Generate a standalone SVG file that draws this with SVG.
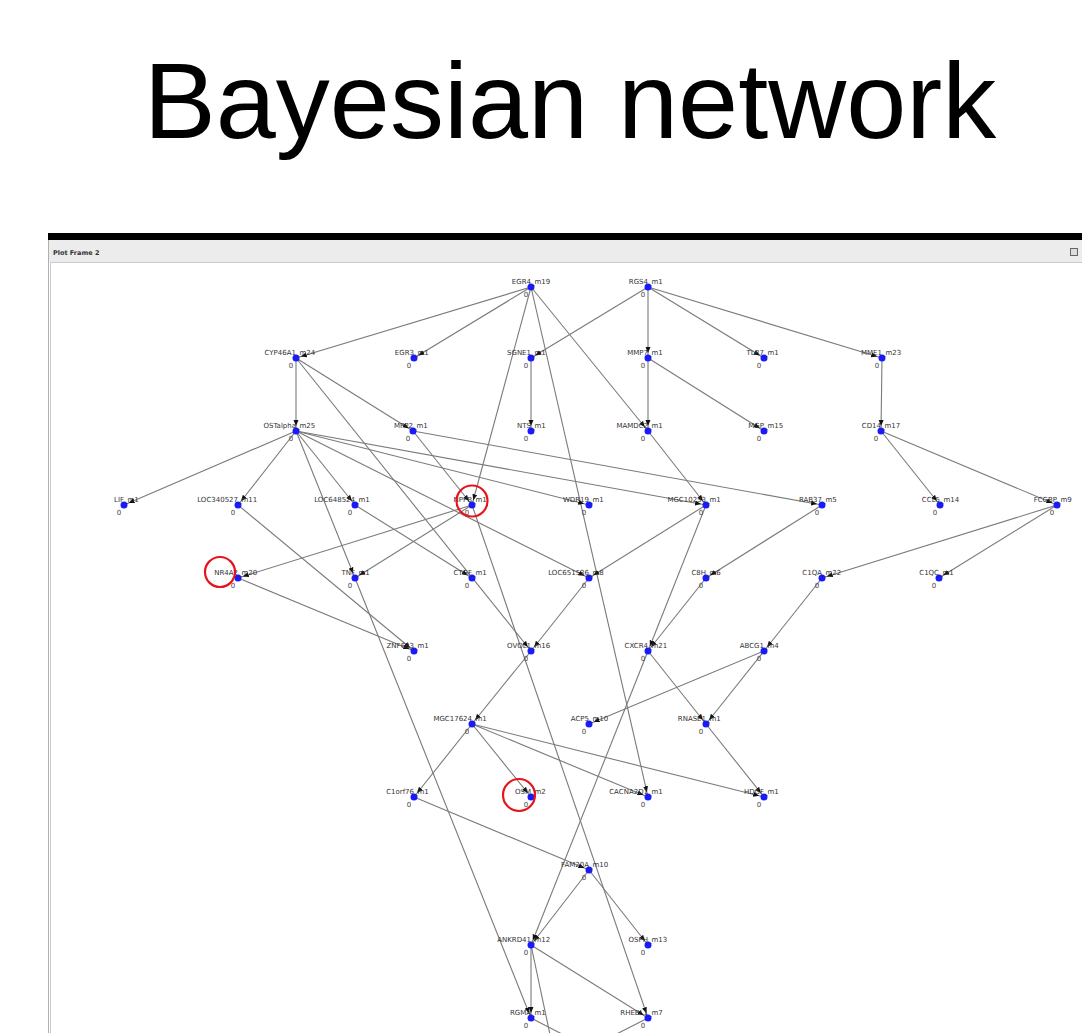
<svg xmlns="http://www.w3.org/2000/svg" width="1082" height="1033" viewBox="0 0 1082 1033">
<style>
.title{font-family:"Liberation Sans",Arial,sans-serif;font-size:108px;fill:#000}
.lb{font-family:"DejaVu Sans",sans-serif;font-size:7px;fill:#333}
.z{font-family:"DejaVu Sans",sans-serif;font-size:7px;fill:#444;text-anchor:middle}
.dot{fill:#1a1aff}
#edges line{stroke:#7a7a7a;stroke-width:1.1;marker-end:url(#ah)}
.hl{fill:none;stroke:#e8141b;stroke-width:2.2}
</style>
<defs>
<marker id="ah" markerUnits="userSpaceOnUse" markerWidth="12" markerHeight="6" refX="11" refY="3" orient="auto">
<path d="M0,0.5 L6,3 L0,5.5 z" fill="#111"/>
</marker>
</defs>
<rect width="1082" height="1033" fill="#fff"/>
<text class="title" x="570" y="138" text-anchor="middle">Bayesian network</text>
<g id="frame">
<rect x="48" y="233" width="1034" height="7" fill="#000"/>
<rect x="48" y="240" width="1034" height="22" fill="#ececec"/>
<rect x="50.5" y="262.5" width="1040" height="790" fill="#fff" stroke="#c5ccd6"/>
<line x1="48.5" y1="240" x2="48.5" y2="1033" stroke="#b0b0b0"/>
<text x="53" y="255" style="font-family:'DejaVu Sans',sans-serif;font-size:6.5px;font-weight:bold;fill:#333">Plot Frame 2</text>
<rect x="1070.5" y="248.5" width="7" height="7" fill="#ddd" stroke="#666"/>
</g>
<g id="edges">
<line x1="531" y1="287" x2="296" y2="358"/>
<line x1="531" y1="287" x2="414" y2="358"/>
<line x1="531" y1="287" x2="472" y2="505"/>
<line x1="531" y1="287" x2="648" y2="797"/>
<line x1="531" y1="287" x2="648" y2="431"/>
<line x1="648" y1="287" x2="531" y2="358"/>
<line x1="648" y1="287" x2="648" y2="358"/>
<line x1="648" y1="287" x2="764" y2="358"/>
<line x1="648" y1="287" x2="882" y2="358"/>
<line x1="296" y1="358" x2="296" y2="431"/>
<line x1="296" y1="358" x2="413" y2="431"/>
<line x1="296" y1="358" x2="531" y2="651"/>
<line x1="531" y1="358" x2="531" y2="431"/>
<line x1="648" y1="358" x2="648" y2="431"/>
<line x1="648" y1="358" x2="764" y2="431"/>
<line x1="882" y1="358" x2="881" y2="431"/>
<line x1="296" y1="431" x2="124" y2="505"/>
<line x1="296" y1="431" x2="238" y2="505"/>
<line x1="296" y1="431" x2="355" y2="505"/>
<line x1="296" y1="431" x2="355" y2="578"/>
<line x1="296" y1="431" x2="589" y2="505"/>
<line x1="296" y1="431" x2="706" y2="505"/>
<line x1="296" y1="431" x2="589" y2="578"/>
<line x1="413" y1="431" x2="472" y2="505"/>
<line x1="413" y1="431" x2="822" y2="505"/>
<line x1="648" y1="431" x2="706" y2="505"/>
<line x1="881" y1="431" x2="940" y2="505"/>
<line x1="881" y1="431" x2="1057" y2="505"/>
<line x1="472" y1="505" x2="238" y2="578"/>
<line x1="472" y1="505" x2="355" y2="578"/>
<line x1="472" y1="505" x2="648" y2="1018"/>
<line x1="238" y1="505" x2="414" y2="651"/>
<line x1="355" y1="505" x2="472" y2="578"/>
<line x1="706" y1="505" x2="589" y2="578"/>
<line x1="706" y1="505" x2="648" y2="651"/>
<line x1="822" y1="505" x2="706" y2="578"/>
<line x1="1057" y1="505" x2="822" y2="578"/>
<line x1="1057" y1="505" x2="939" y2="578"/>
<line x1="238" y1="578" x2="414" y2="651"/>
<line x1="355" y1="578" x2="531" y2="1018"/>
<line x1="589" y1="578" x2="531" y2="651"/>
<line x1="706" y1="578" x2="648" y2="651"/>
<line x1="822" y1="578" x2="764" y2="651"/>
<line x1="531" y1="651" x2="472" y2="724"/>
<line x1="648" y1="651" x2="706" y2="724"/>
<line x1="648" y1="651" x2="531" y2="945"/>
<line x1="764" y1="651" x2="589" y2="724"/>
<line x1="764" y1="651" x2="706" y2="724"/>
<line x1="472" y1="724" x2="414" y2="797"/>
<line x1="472" y1="724" x2="531" y2="797"/>
<line x1="472" y1="724" x2="648" y2="797"/>
<line x1="472" y1="724" x2="764" y2="797"/>
<line x1="706" y1="724" x2="764" y2="797"/>
<line x1="414" y1="797" x2="589" y2="870"/>
<line x1="589" y1="870" x2="531" y2="945"/>
<line x1="589" y1="870" x2="648" y2="945"/>
<line x1="531" y1="945" x2="531" y2="1018"/>
<line x1="531" y1="945" x2="648" y2="1018"/>
<line x1="531" y1="945" x2="566" y2="1110"/>
<line x1="531" y1="1018" x2="589" y2="1048"/>
<line x1="648" y1="1018" x2="589" y2="1048"/>
</g>
<g id="nodes">
<g id="n-EGR4"><circle class="dot" cx="531" cy="287" r="3.5"/><text class="lb" y="283.5"><tspan x="531" text-anchor="end">EGR4</tspan><tspan x="531">_m19</tspan></text><text class="z" x="526" y="296.5">0</text></g>
<g id="n-RGS4"><circle class="dot" cx="648" cy="287" r="3.5"/><text class="lb" y="283.5"><tspan x="648" text-anchor="end">RGS4</tspan><tspan x="648">_m1</tspan></text><text class="z" x="643" y="296.5">0</text></g>
<g id="n-CYP46A1"><circle class="dot" cx="296" cy="358" r="3.5"/><text class="lb" y="354.5"><tspan x="296" text-anchor="end">CYP46A1</tspan><tspan x="296">_m24</tspan></text><text class="z" x="291" y="367.5">0</text></g>
<g id="n-EGR3"><circle class="dot" cx="414" cy="358" r="3.5"/><text class="lb" y="354.5"><tspan x="414" text-anchor="end">EGR3</tspan><tspan x="414">_m1</tspan></text><text class="z" x="409" y="367.5">0</text></g>
<g id="n-SGNE1"><circle class="dot" cx="531" cy="358" r="3.5"/><text class="lb" y="354.5"><tspan x="531" text-anchor="end">SGNE1</tspan><tspan x="531">_m1</tspan></text><text class="z" x="526" y="367.5">0</text></g>
<g id="n-MMP7"><circle class="dot" cx="648" cy="358" r="3.5"/><text class="lb" y="354.5"><tspan x="648" text-anchor="end">MMP7</tspan><tspan x="648">_m1</tspan></text><text class="z" x="643" y="367.5">0</text></g>
<g id="n-TLR7"><circle class="dot" cx="764" cy="358" r="3.5"/><text class="lb" y="354.5"><tspan x="764" text-anchor="end">TLR7</tspan><tspan x="764">_m1</tspan></text><text class="z" x="759" y="367.5">0</text></g>
<g id="n-MME1"><circle class="dot" cx="882" cy="358" r="3.5"/><text class="lb" y="354.5"><tspan x="882" text-anchor="end">MME1</tspan><tspan x="882">_m23</tspan></text><text class="z" x="877" y="367.5">0</text></g>
<g id="n-OSTalpha"><circle class="dot" cx="296" cy="431" r="3.5"/><text class="lb" y="427.5"><tspan x="296" text-anchor="end">OSTalpha</tspan><tspan x="296">_m25</tspan></text><text class="z" x="291" y="440.5">0</text></g>
<g id="n-MPP2"><circle class="dot" cx="413" cy="431" r="3.5"/><text class="lb" y="427.5"><tspan x="413" text-anchor="end">MPP2</tspan><tspan x="413">_m1</tspan></text><text class="z" x="408" y="440.5">0</text></g>
<g id="n-NTS"><circle class="dot" cx="531" cy="431" r="3.5"/><text class="lb" y="427.5"><tspan x="531" text-anchor="end">NTS</tspan><tspan x="531">_m1</tspan></text><text class="z" x="526" y="440.5">0</text></g>
<g id="n-MAMDC2"><circle class="dot" cx="648" cy="431" r="3.5"/><text class="lb" y="427.5"><tspan x="648" text-anchor="end">MAMDC2</tspan><tspan x="648">_m1</tspan></text><text class="z" x="643" y="440.5">0</text></g>
<g id="n-MGP"><circle class="dot" cx="764" cy="431" r="3.5"/><text class="lb" y="427.5"><tspan x="764" text-anchor="end">MGP</tspan><tspan x="764">_m15</tspan></text><text class="z" x="759" y="440.5">0</text></g>
<g id="n-CD14"><circle class="dot" cx="881" cy="431" r="3.5"/><text class="lb" y="427.5"><tspan x="881" text-anchor="end">CD14</tspan><tspan x="881">_m17</tspan></text><text class="z" x="876" y="440.5">0</text></g>
<g id="n-LIF"><circle class="dot" cx="124" cy="505" r="3.5"/><text class="lb" y="501.5"><tspan x="124" text-anchor="end">LIF</tspan><tspan x="124">_m1</tspan></text><text class="z" x="119" y="514.5">0</text></g>
<g id="n-LOC340527"><circle class="dot" cx="238" cy="505" r="3.5"/><text class="lb" y="501.5"><tspan x="238" text-anchor="end">LOC340527</tspan><tspan x="238">_m11</tspan></text><text class="z" x="233" y="514.5">0</text></g>
<g id="n-LOC648524"><circle class="dot" cx="355" cy="505" r="3.5"/><text class="lb" y="501.5"><tspan x="355" text-anchor="end">LOC648524</tspan><tspan x="355">_m1</tspan></text><text class="z" x="350" y="514.5">0</text></g>
<g id="n-NPPB"><circle class="dot" cx="472" cy="505" r="3.5"/><text class="lb" y="501.5"><tspan x="472" text-anchor="end">NPPB</tspan><tspan x="472">_m1</tspan></text><text class="z" x="467" y="514.5">0</text></g>
<g id="n-WDR19"><circle class="dot" cx="589" cy="505" r="3.5"/><text class="lb" y="501.5"><tspan x="589" text-anchor="end">WDR19</tspan><tspan x="589">_m1</tspan></text><text class="z" x="584" y="514.5">0</text></g>
<g id="n-MGC10233"><circle class="dot" cx="706" cy="505" r="3.5"/><text class="lb" y="501.5"><tspan x="706" text-anchor="end">MGC10233</tspan><tspan x="706">_m1</tspan></text><text class="z" x="701" y="514.5">0</text></g>
<g id="n-RAB37"><circle class="dot" cx="822" cy="505" r="3.5"/><text class="lb" y="501.5"><tspan x="822" text-anchor="end">RAB37</tspan><tspan x="822">_m5</tspan></text><text class="z" x="817" y="514.5">0</text></g>
<g id="n-CCL5"><circle class="dot" cx="940" cy="505" r="3.5"/><text class="lb" y="501.5"><tspan x="940" text-anchor="end">CCL5</tspan><tspan x="940">_m14</tspan></text><text class="z" x="935" y="514.5">0</text></g>
<g id="n-FCGBP"><circle class="dot" cx="1057" cy="505" r="3.5"/><text class="lb" y="501.5"><tspan x="1057" text-anchor="end">FCGBP</tspan><tspan x="1057">_m9</tspan></text><text class="z" x="1052" y="514.5">0</text></g>
<g id="n-NR4A2"><circle class="dot" cx="238" cy="578" r="3.5"/><text class="lb" y="574.5"><tspan x="238" text-anchor="end">NR4A2</tspan><tspan x="238">_m20</tspan></text><text class="z" x="233" y="587.5">0</text></g>
<g id="n-TNF"><circle class="dot" cx="355" cy="578" r="3.5"/><text class="lb" y="574.5"><tspan x="355" text-anchor="end">TNF</tspan><tspan x="355">_m1</tspan></text><text class="z" x="350" y="587.5">0</text></g>
<g id="n-CTGF"><circle class="dot" cx="472" cy="578" r="3.5"/><text class="lb" y="574.5"><tspan x="472" text-anchor="end">CTGF</tspan><tspan x="472">_m1</tspan></text><text class="z" x="467" y="587.5">0</text></g>
<g id="n-LOC651536"><circle class="dot" cx="589" cy="578" r="3.5"/><text class="lb" y="574.5"><tspan x="589" text-anchor="end">LOC651536</tspan><tspan x="589">_m8</tspan></text><text class="z" x="584" y="587.5">0</text></g>
<g id="n-C8H"><circle class="dot" cx="706" cy="578" r="3.5"/><text class="lb" y="574.5"><tspan x="706" text-anchor="end">C8H</tspan><tspan x="706">_m6</tspan></text><text class="z" x="701" y="587.5">0</text></g>
<g id="n-C1QA"><circle class="dot" cx="822" cy="578" r="3.5"/><text class="lb" y="574.5"><tspan x="822" text-anchor="end">C1QA</tspan><tspan x="822">_m22</tspan></text><text class="z" x="817" y="587.5">0</text></g>
<g id="n-C1QC"><circle class="dot" cx="939" cy="578" r="3.5"/><text class="lb" y="574.5"><tspan x="939" text-anchor="end">C1QC</tspan><tspan x="939">_m1</tspan></text><text class="z" x="934" y="587.5">0</text></g>
<g id="n-ZNF683"><circle class="dot" cx="414" cy="651" r="3.5"/><text class="lb" y="647.5"><tspan x="414" text-anchor="end">ZNF683</tspan><tspan x="414">_m1</tspan></text><text class="z" x="409" y="660.5">0</text></g>
<g id="n-OVOL1"><circle class="dot" cx="531" cy="651" r="3.5"/><text class="lb" y="647.5"><tspan x="531" text-anchor="end">OVOL1</tspan><tspan x="531">_m16</tspan></text><text class="z" x="526" y="660.5">0</text></g>
<g id="n-CXCR4"><circle class="dot" cx="648" cy="651" r="3.5"/><text class="lb" y="647.5"><tspan x="648" text-anchor="end">CXCR4</tspan><tspan x="648">_m21</tspan></text><text class="z" x="643" y="660.5">0</text></g>
<g id="n-ABCG1"><circle class="dot" cx="764" cy="651" r="3.5"/><text class="lb" y="647.5"><tspan x="764" text-anchor="end">ABCG1</tspan><tspan x="764">_m4</tspan></text><text class="z" x="759" y="660.5">0</text></g>
<g id="n-MGC17624"><circle class="dot" cx="472" cy="724" r="3.5"/><text class="lb" y="720.5"><tspan x="472" text-anchor="end">MGC17624</tspan><tspan x="472">_m1</tspan></text><text class="z" x="467" y="733.5">0</text></g>
<g id="n-ACP5"><circle class="dot" cx="589" cy="724" r="3.5"/><text class="lb" y="720.5"><tspan x="589" text-anchor="end">ACP5</tspan><tspan x="589">_m10</tspan></text><text class="z" x="584" y="733.5">0</text></g>
<g id="n-RNASE1"><circle class="dot" cx="706" cy="724" r="3.5"/><text class="lb" y="720.5"><tspan x="706" text-anchor="end">RNASE1</tspan><tspan x="706">_m1</tspan></text><text class="z" x="701" y="733.5">0</text></g>
<g id="n-C1orf76"><circle class="dot" cx="414" cy="797" r="3.5"/><text class="lb" y="793.5"><tspan x="414" text-anchor="end">C1orf76</tspan><tspan x="414">_m1</tspan></text><text class="z" x="409" y="806.5">0</text></g>
<g id="n-OSM"><circle class="dot" cx="531" cy="797" r="3.5"/><text class="lb" y="793.5"><tspan x="531" text-anchor="end">OSM</tspan><tspan x="531">_m2</tspan></text><text class="z" x="526" y="806.5">0</text></g>
<g id="n-CACNA2D1"><circle class="dot" cx="648" cy="797" r="3.5"/><text class="lb" y="793.5"><tspan x="648" text-anchor="end">CACNA2D1</tspan><tspan x="648">_m1</tspan></text><text class="z" x="643" y="806.5">0</text></g>
<g id="n-HDGF"><circle class="dot" cx="764" cy="797" r="3.5"/><text class="lb" y="793.5"><tspan x="764" text-anchor="end">HDGF</tspan><tspan x="764">_m1</tspan></text><text class="z" x="759" y="806.5">0</text></g>
<g id="n-FAM20A"><circle class="dot" cx="589" cy="870" r="3.5"/><text class="lb" y="866.5"><tspan x="589" text-anchor="end">FAM20A</tspan><tspan x="589">_m10</tspan></text><text class="z" x="584" y="879.5">0</text></g>
<g id="n-ANKRD41"><circle class="dot" cx="531" cy="945" r="3.5"/><text class="lb" y="941.5"><tspan x="531" text-anchor="end">ANKRD41</tspan><tspan x="531">_m12</tspan></text><text class="z" x="526" y="954.5">0</text></g>
<g id="n-OSPH"><circle class="dot" cx="648" cy="945" r="3.5"/><text class="lb" y="941.5"><tspan x="648" text-anchor="end">OSPH</tspan><tspan x="648">_m13</tspan></text><text class="z" x="643" y="954.5">0</text></g>
<g id="n-RGMA"><circle class="dot" cx="531" cy="1018" r="3.5"/><text class="lb" y="1014.5"><tspan x="531" text-anchor="end">RGMA</tspan><tspan x="531">_m1</tspan></text><text class="z" x="526" y="1027.5">0</text></g>
<g id="n-RHEBL1"><circle class="dot" cx="648" cy="1018" r="3.5"/><text class="lb" y="1014.5"><tspan x="648" text-anchor="end">RHEBL1</tspan><tspan x="648">_m7</tspan></text><text class="z" x="643" y="1027.5">0</text></g>
</g>
<g id="highlights">
<circle class="hl" cx="472" cy="501" r="15.5"/>
<circle class="hl" cx="220" cy="572" r="15"/>
<circle class="hl" cx="519" cy="795" r="16"/>
</g>
</svg>
